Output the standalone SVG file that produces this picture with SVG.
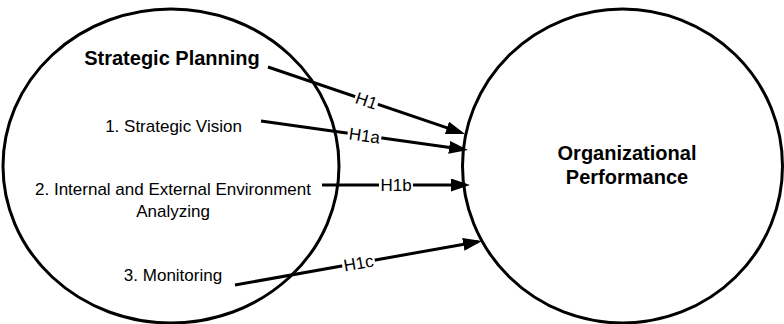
<svg xmlns="http://www.w3.org/2000/svg" width="784" height="324" viewBox="0 0 784 324">
  <style>
    .node { fill: #ffffff; stroke: #000000; stroke-width: 3; }
    .title { font-family: "Liberation Sans", Arial, sans-serif; font-size: 20px; font-weight: bold; fill: #000; text-anchor: middle; }
    .item { font-family: "Liberation Sans", Arial, sans-serif; font-size: 17px; fill: #000; text-anchor: middle; }
    .edge { stroke: #000; stroke-width: 3; fill: none; marker-end: url(#arrow); }
    .lblbg { fill: #ffffff; stroke: none; }
    .lbl { font-family: "Liberation Sans", Arial, sans-serif; font-size: 17px; fill: #000; text-anchor: middle; }
  </style>
  <defs>
    <marker id="arrow" markerUnits="userSpaceOnUse" markerWidth="20" markerHeight="14" refX="15" refY="6.5" orient="auto">
      <path d="M0,0 L19,6.5 L0,13 z" fill="#000"/>
    </marker>
  </defs>
  <rect x="0" y="0" width="784" height="324" fill="#ffffff"/>

  <g id="strategic-planning">
    <ellipse class="node" cx="171" cy="166" rx="168" ry="157"/>
    <text class="title" x="172" y="65">Strategic Planning</text>
    <text class="item" x="173.5" y="132">1. Strategic Vision</text>
    <text class="item" x="173" y="195">2. Internal and External Environment</text>
    <text class="item" x="173" y="217">Analyzing</text>
    <text class="item" x="173" y="281">3. Monitoring</text>
  </g>

  <g id="organizational-performance">
    <ellipse class="node" cx="622.5" cy="166" rx="160" ry="157"/>
    <text class="title" x="627" y="160">Organizational</text>
    <text class="title" x="627" y="184">Performance</text>
  </g>

  <g id="connectors">
    <line class="edge" x1="268" y1="67" x2="461.2" y2="132.7"/>
    <line class="edge" x1="261" y1="121" x2="464" y2="149.4"/>
    <line class="edge" x1="322" y1="185" x2="466" y2="185"/>
    <line class="edge" x1="235" y1="285" x2="478.1" y2="241.7"/>

    <g transform="translate(366.5,100.5) rotate(18.8)">
      <rect class="lblbg" x="-12" y="-7" width="24" height="14"/>
      <text class="lbl" x="0" y="6">H1</text>
    </g>
    <g transform="translate(364.5,135.5) rotate(8)">
      <rect class="lblbg" x="-17" y="-7" width="34" height="14"/>
      <text class="lbl" x="0" y="6">H1a</text>
    </g>
    <g transform="translate(396,185)">
      <rect class="lblbg" x="-17" y="-7" width="34" height="14"/>
      <text class="lbl" x="0" y="6">H1b</text>
    </g>
    <g transform="translate(358.5,263) rotate(-10.1)">
      <rect class="lblbg" x="-16.5" y="-7" width="33" height="14"/>
      <text class="lbl" x="0" y="6">H1c</text>
    </g>
  </g>
</svg>
